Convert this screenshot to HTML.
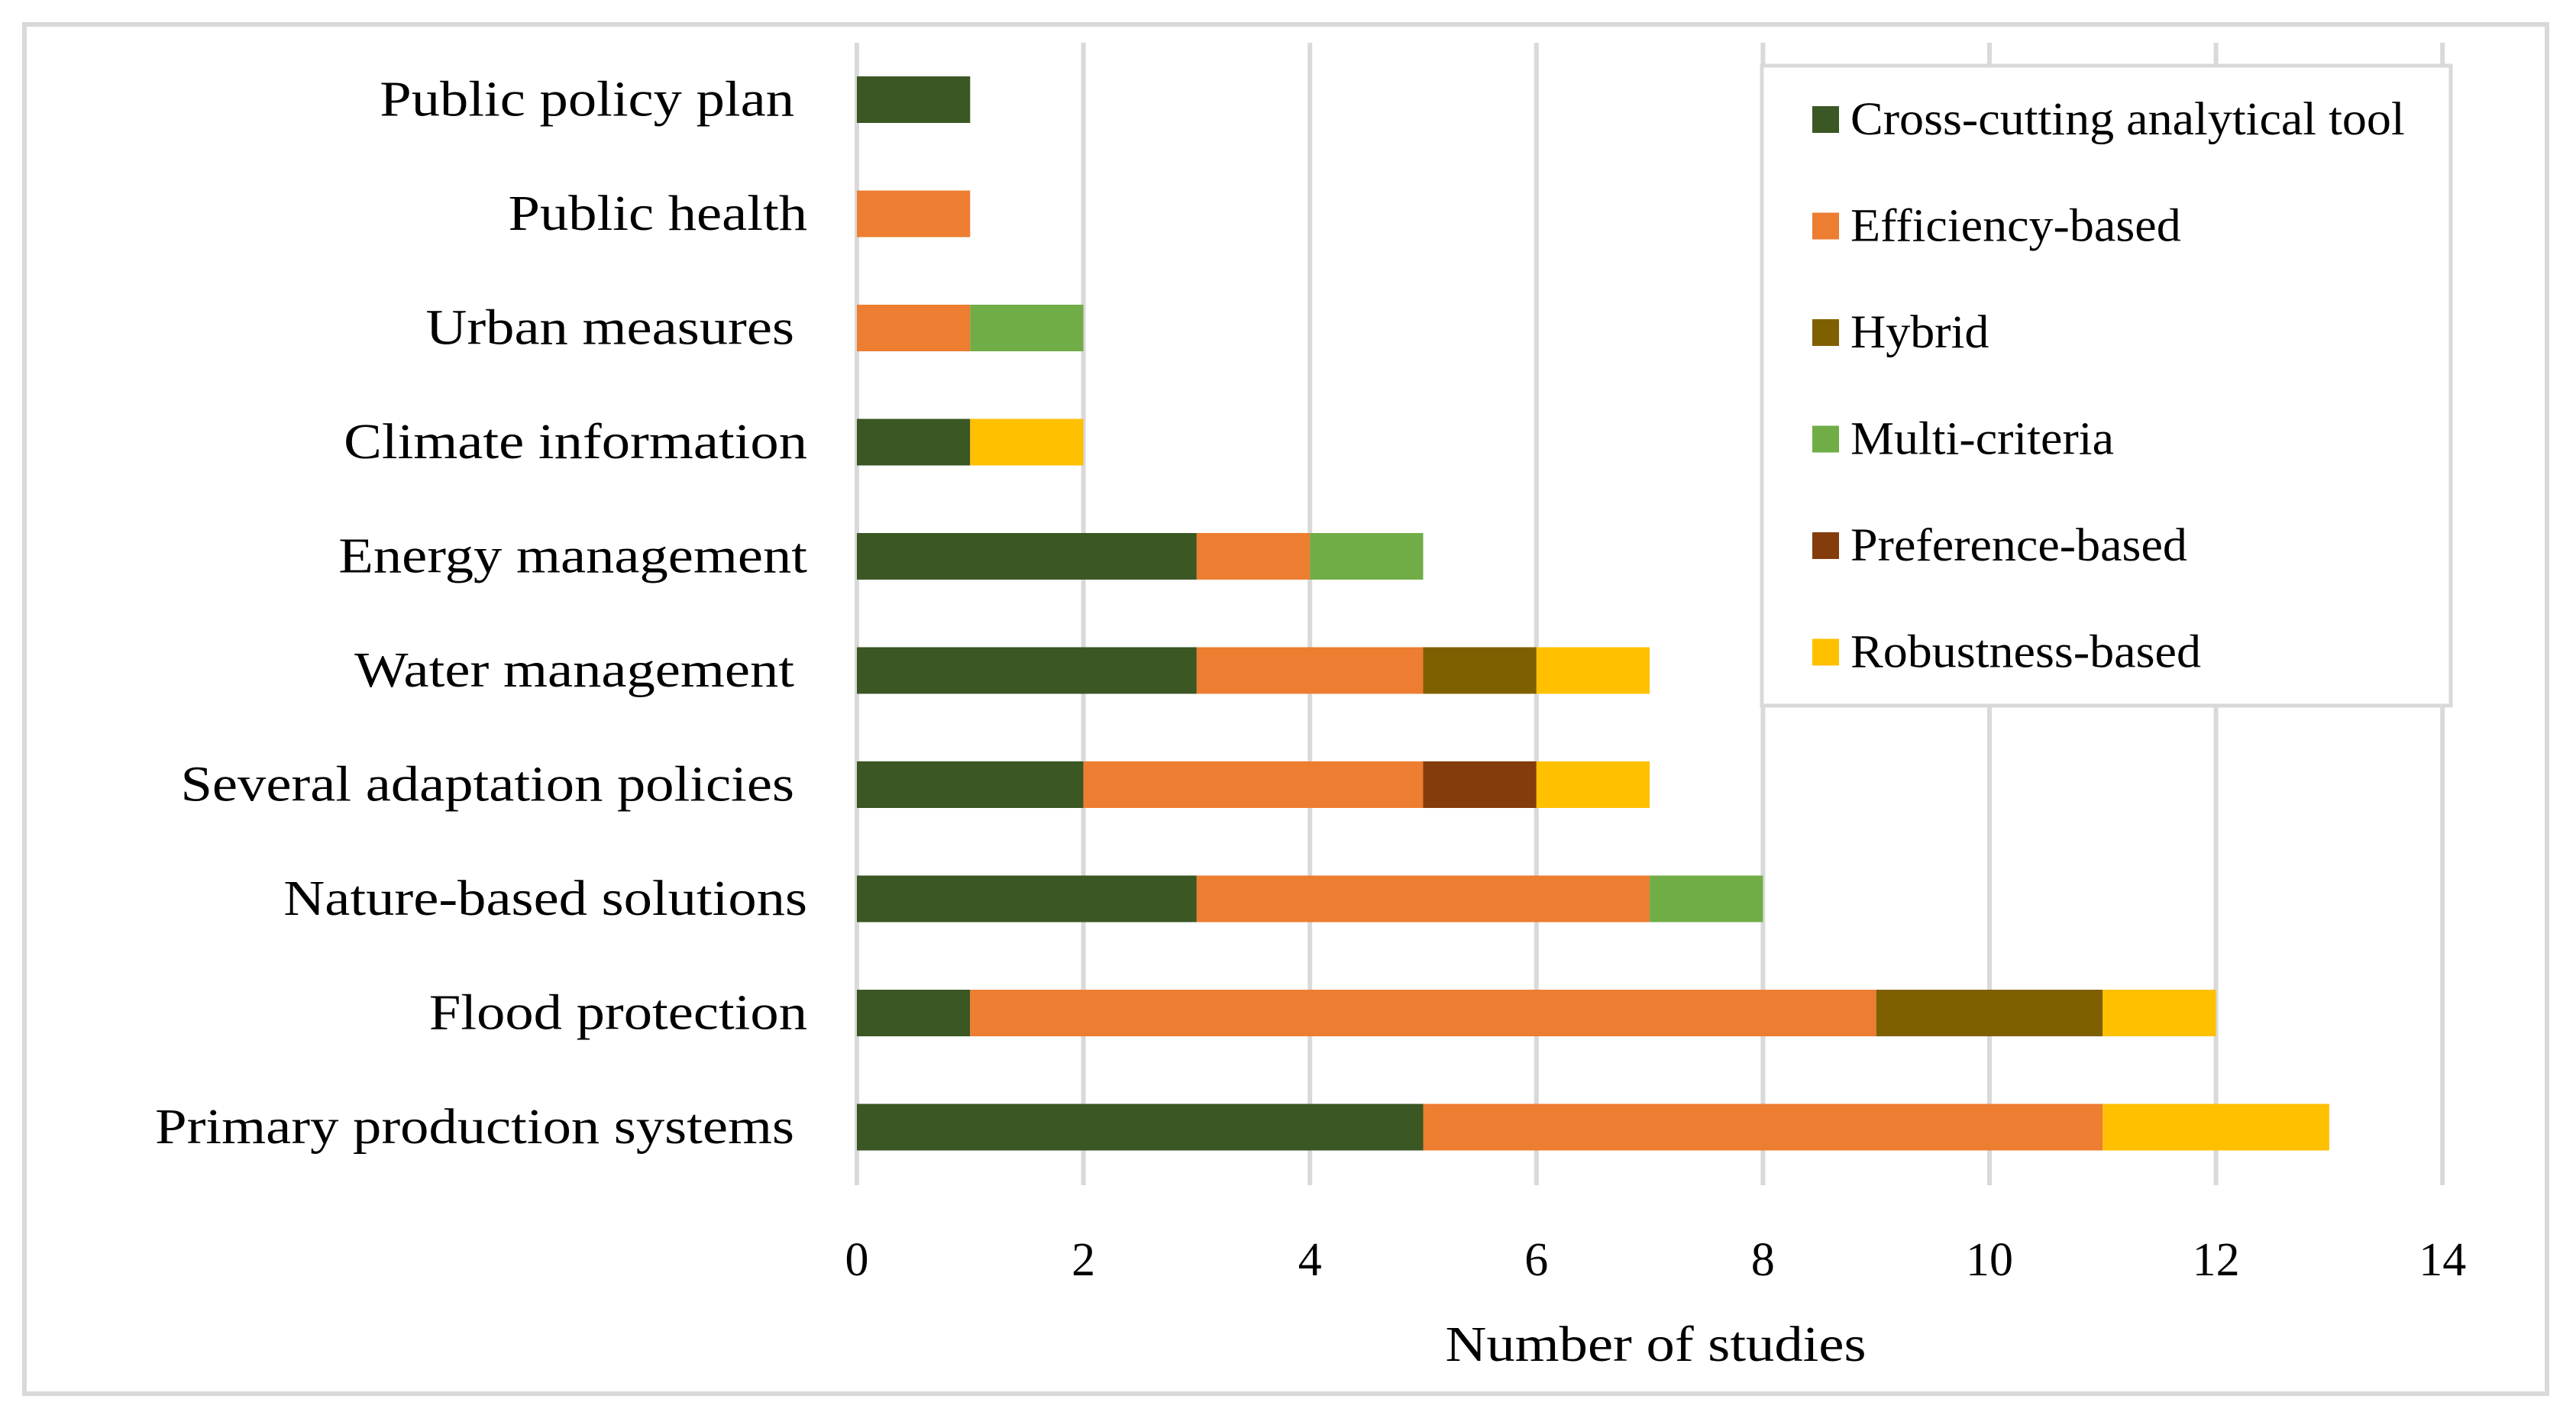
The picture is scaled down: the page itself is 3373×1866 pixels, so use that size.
<!DOCTYPE html>
<html><head><meta charset="utf-8"><style>
html,body{margin:0;padding:0;background:#fff;}
svg{display:block;}
text{font-family:"Liberation Serif",serif;fill:#000;}
</style></head><body>
<svg id="chart" width="3373" height="1866" viewBox="0 0 3373 1866" xmlns="http://www.w3.org/2000/svg">
<rect x="32" y="32" width="3303" height="1793" fill="#fff" stroke="#d9d9d9" stroke-width="6"/>
<g id="grid"></g>
<g id="bars"></g>
<g id="ylabels"></g>
<g id="xticks"></g>
<text id="xtitle" x="2168" y="1782" font-size="66" text-anchor="middle">Number of studies</text>
<g id="legend"></g>
</svg>
<script>
const categories = ["Public policy plan ","Public health","Urban measures ","Climate information","Energy management","Water management ","Several adaptation policies ","Nature-based solutions","Flood protection","Primary production systems "];
const seriesNames = ["Cross-cutting analytical tool","Efficiency-based","Hybrid","Multi-criteria","Preference-based","Robustness-based"];
const crossCutting = [1,0,0,1,3,3,2,3,1,5];
const efficiency   = [0,1,1,0,1,2,3,4,8,6];
const hybrid       = [0,0,0,0,0,1,0,0,2,0];
const multiCriteria= [0,0,1,0,1,0,0,1,0,0];
const preference   = [0,0,0,0,0,0,1,0,0,0];
const robustness   = [0,0,0,1,0,1,1,0,1,2];
const xTicks = [0,2,4,6,8,10,12,14];

const series = [crossCutting,efficiency,hybrid,multiCriteria,preference,robustness];
const colors = ["#3A5724","#ED7D31","#7F6000","#70AD47","#843C0C","#FFC000"];
const NS="http://www.w3.org/2000/svg";
const x0=1122, unit=148.3, yTop=56, yBot=1552, row0=130.5, rowStep=149.5, barH=61;
const xs = v => x0 + v*unit;
const yc = i => row0 + i*rowStep;
function mk(tag, attrs, parent){const e=document.createElementNS(NS,tag);for(const k in attrs)e.setAttribute(k,attrs[k]);parent.appendChild(e);return e;}
function widen(t,f){const w=t.getComputedTextLength();t.setAttribute('textLength',w*f);t.setAttribute('lengthAdjust','spacingAndGlyphs');}
const grid=document.getElementById('grid'), bars=document.getElementById('bars'), yl=document.getElementById('ylabels'), xt=document.getElementById('xticks'), lg=document.getElementById('legend');
xTicks.forEach(t=>{
  const l=mk('line',{x1:xs(t),x2:xs(t),y1:yTop,y2:yBot,stroke:'#d9d9d9','stroke-width':6},grid);
  
  
  const tx=mk('text',{x:xs(t),y:1670,'font-size':62,'text-anchor':'middle'},xt);
  tx.textContent=String(t);
  
  
});
categories.forEach((c,i)=>{
  const trailing=c.endsWith(' ');
  const tx=mk('text',{x:trailing?1040:1057,y:yc(i)+21,'font-size':66,'text-anchor':'end'},yl);
  tx.textContent=c.trim();
  
  
  widen(tx,1.13);
  let acc=0;
  series.forEach((s,k)=>{
    const v=s[i]; if(!v) return;
    const r=mk('rect',{x:xs(acc),y:yc(i)-barH/2,width:xs(acc+v)-xs(acc),height:barH,fill:colors[k]},bars);
    
    
    acc+=v;
  });
});
widen(document.getElementById('xtitle'),1.13);
const lb=mk('rect',{x:2307,y:86,width:902,height:838,fill:'#fff',stroke:'#d9d9d9','stroke-width':5},lg);


seriesNames.forEach((n,k)=>{
  const y=139+k*139.5;
  const sw=mk('rect',{x:2373,y:y,width:35,height:35,fill:colors[k]},lg);
  
  
  const tx=mk('text',{x:2423,y:y+37,'font-size':61},lg);
  tx.textContent=n;
  
  
  widen(tx,1.05);
});
</script>
</body></html>
